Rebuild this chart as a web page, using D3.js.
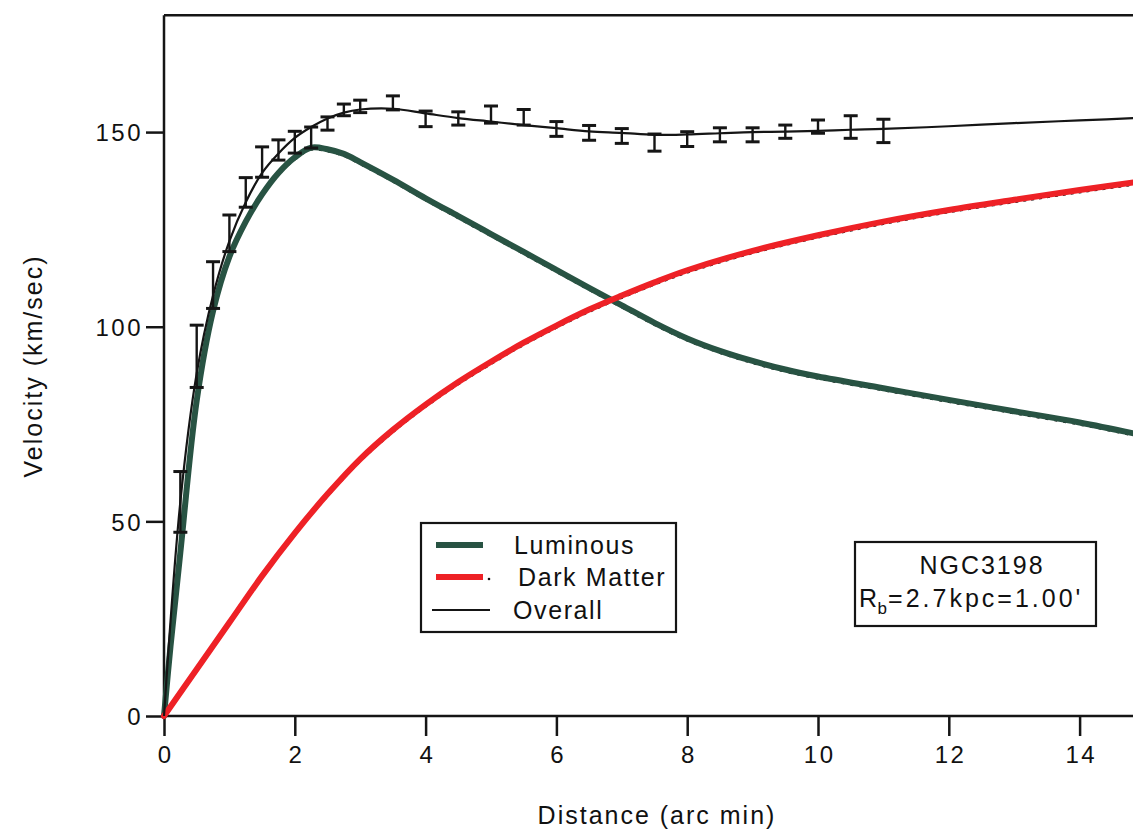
<!DOCTYPE html>
<html>
<head>
<meta charset="utf-8">
<script src="https://cdn.jsdelivr.net/npm/d3@7"></script>
<style>
  html, body { margin: 0; padding: 0; background: #ffffff; }
  svg { display: block; }
  text { font-family: "Liberation Sans", Arial, Helvetica, sans-serif; fill: #111; }
</style>
</head>
<body>
<svg id="chart" width="1133" height="830"></svg>
<script>
// ---------- data ----------
const xTicks = [0, 2, 4, 6, 8, 10, 12, 14];
const yTicks = [0, 50, 100, 150];

// Luminous (stellar + gas) contribution: [distance arcmin, velocity km/s]
const luminous = [[0,0],[0.1,18],[0.25,42],[0.5,81],[0.75,104],[1,118],[1.25,127],[1.5,134],
  [1.75,139.5],[2,143.5],[2.25,146],[2.5,145.6],[2.75,144.4],[3,142.3],[3.5,137.8],[4,133],
  [4.5,128.4],[5,123.8],[5.5,119.2],[6,114.6],[6.5,110],[7,105.5],[7.5,101],[8,97],[8.5,93.8],
  [9,91.2],[9.5,89],[10,87.2],[11,84.2],[12,81.2],[13,78.3],[14,75.4],[15,72]];

// Dark matter halo contribution
const darkMatter = [[0,0],[0.5,12],[1,24],[1.5,36],[2,47],[2.5,57],[3,66],[3.5,73.5],[4,80],
  [4.5,85.8],[5,91],[5.5,95.9],[6,100.3],[6.5,104.4],[7,108],[7.5,111.4],[8,114.5],[9,119.5],
  [10,123.5],[11,127],[12,130],[13,132.6],[14,135.1],[15,137.5]];

// Overall fitted rotation curve
const overall = [[0,0],[0.25,55],[0.5,88],[0.75,108],[1,122],[1.25,132],[1.5,139.5],[1.75,144.5],
  [2,148.5],[2.25,151.3],[2.5,153.5],[2.75,155],[3,155.8],[3.5,156],[4,154.8],[4.5,153.6],
  [5,152.7],[5.5,151.8],[6,151],[6.5,150.2],[7,149.8],[7.5,149.3],[8,149.4],[8.5,149.7],
  [9,150],[9.5,150.1],[10,150.3],[10.5,150.6],[11,150.8],[12,151.5],[13,152.3],[14,153],[15,153.7]];

// Observed rotation velocities: distance, velocity, error
const obsDist = [0.25,0.5,0.75,1,1.25,1.5,1.75,2,2.25,2.5,2.75,3,3.5,4,4.5,5,5.5,6,6.5,7,7.5,8,8.5,9,9.5,10,10.5,11];
const obsVel  = [55,92.4,110.7,124,134.5,142.3,145.4,147.4,148.6,152.2,155.7,156.6,157.5,153.4,153.5,154.5,153.8,150.8,149.8,149,147.3,148.2,149.3,149.3,150.1,151.4,151.3,150.3];
const obsErr  = [7.8,8,6,4.7,3.8,3.9,2.6,2.8,2.7,1.7,1.5,1.6,1.8,2,1.7,2.2,2,1.9,1.9,1.9,2.2,1.9,1.8,1.8,1.7,1.7,2.9,3];

const legendItems = ["Luminous", "Dark Matter", "Overall"];
const xTitle = "Distance (arc min)";
const yTitle = "Velocity  (km/sec)";
const galaxyName = "NGC3198";

// ---------- styles ----------
const GREEN = "#285343";
const RED = "#ee2126";
const INK = "#151515";

const svg = d3.select("#chart");
const x = d3.scaleLinear().domain([0, 15]).range([164, 164 + 15 * 65.4]);
const y = d3.scaleLinear().domain([0, 180]).range([716, 15.3]);

// ---------- frame & axes ----------
svg.append("line").attr("x1", x(0)).attr("x2", x(15)).attr("y1", y(180)).attr("y2", y(180))
  .attr("stroke", INK).attr("stroke-width", 2.5);

const xAxis = svg.append("g").attr("transform", `translate(0,${y(0)})`)
  .call(d3.axisBottom(x).tickValues(xTicks).tickSize(20).tickSizeOuter(0).tickPadding(10).tickFormat(d3.format("d")));
const yAxis = svg.append("g").attr("transform", `translate(${x(0)},0)`)
  .call(d3.axisLeft(y).tickValues(yTicks).tickSize(18).tickSizeOuter(0).tickFormat(d3.format("d")));

[xAxis, yAxis].forEach(g => {
  g.select(".domain").attr("stroke", INK).attr("stroke-width", 2.5);
  g.selectAll(".tick line").attr("stroke", INK).attr("stroke-width", 2.5);
  g.selectAll(".tick text").attr("fill", INK).style("font-family", '"Liberation Sans", Arial, sans-serif')
    .style("font-size", "24px").style("letter-spacing", "2.5px");
});
yAxis.select(".domain").attr("d", `M0,${y(180)}V${y(0)}`);
xAxis.select(".domain").attr("d", `M${x(0)},0H${x(15)}`);
xAxis.selectAll(".tick text").attr("dx", "1.2px");
yAxis.selectAll(".tick text").attr("x", -21).attr("dy", "0.36em");

svg.append("text").attr("x", 657).attr("y", 824).attr("text-anchor", "middle")
  .style("font-size", "25px").style("letter-spacing", "2px").text(xTitle);
svg.append("text").attr("transform", "translate(42,366) rotate(-90)").attr("text-anchor", "middle")
  .style("font-size", "25px").style("letter-spacing", "2px").text(yTitle);

// ---------- curves ----------
const line = d3.line().x(d => x(d[0])).y(d => y(d[1])).curve(d3.curveCatmullRom.alpha(0.5));
const plot = svg.append("g");

// faint printed dashed lines under the coloured curves
plot.append("path").datum(darkMatter).attr("d", line).attr("fill", "none")
  .attr("stroke", INK).attr("stroke-width", 1.6).attr("stroke-dasharray", "3,5")
  .attr("transform", "translate(0,2.6)");
plot.append("path").datum(luminous).attr("d", line).attr("fill", "none")
  .attr("stroke", INK).attr("stroke-width", 1.6).attr("stroke-dasharray", "3,6")
  .attr("transform", "translate(0,2.4)");

plot.append("path").datum(luminous).attr("d", line).attr("fill", "none")
  .attr("stroke", GREEN).attr("stroke-width", 6).attr("stroke-linecap", "round");
plot.append("path").datum(darkMatter).attr("d", line).attr("fill", "none")
  .attr("stroke", RED).attr("stroke-width", 6).attr("stroke-linecap", "round");
plot.append("path").datum(overall).attr("d", line).attr("fill", "none")
  .attr("stroke", INK).attr("stroke-width", 2.2);

// ---------- error bars ----------
const obs = obsDist.map((d, i) => ({ d, v: obsVel[i], e: obsErr[i] }));
const eb = plot.append("g").attr("stroke", INK);
const cap = 7;
eb.selectAll(".bar").data(obs).join("line")
  .attr("x1", o => x(o.d)).attr("x2", o => x(o.d))
  .attr("y1", o => y(o.v - o.e)).attr("y2", o => y(o.v + o.e)).attr("stroke-width", 2.4);
eb.selectAll(".capT").data(obs).join("line").attr("class", "capT")
  .attr("x1", o => x(o.d) - cap).attr("x2", o => x(o.d) + cap)
  .attr("y1", o => y(o.v + o.e)).attr("y2", o => y(o.v + o.e)).attr("stroke-width", 3);
eb.selectAll(".capB").data(obs).join("line").attr("class", "capB")
  .attr("x1", o => x(o.d) - cap).attr("x2", o => x(o.d) + cap)
  .attr("y1", o => y(o.v - o.e)).attr("y2", o => y(o.v - o.e)).attr("stroke-width", 3);

// ---------- legend ----------
const lg = svg.append("g");
lg.append("rect").attr("x", 421).attr("y", 523).attr("width", 255).attr("height", 109)
  .attr("fill", "#fff").attr("stroke", INK).attr("stroke-width", 2.2);
const legendStyle = [
  { c: GREEN, w: 6, x1: 436, x2: 483, y: 545, tx: 514 },
  { c: RED, w: 6, x1: 436, x2: 483, y: 577, tx: 518 },
  { c: INK, w: 1.8, x1: 432, x2: 490, y: 610, tx: 513 }
];
legendItems.forEach((name, i) => {
  const s = legendStyle[i];
  lg.append("line").attr("x1", s.x1).attr("x2", s.x2).attr("y1", s.y).attr("y2", s.y)
    .attr("stroke", s.c).attr("stroke-width", s.w);
  lg.append("text").attr("x", s.tx).attr("y", s.y + 9)
    .style("font-size", "25px").style("letter-spacing", "1.6px").text(name);
});
lg.append("circle").attr("cx", 489).attr("cy", 579).attr("r", 1.3).attr("fill", INK);

// ---------- info box ----------
const ib = svg.append("g");
ib.append("rect").attr("x", 855).attr("y", 542).attr("width", 241).attr("height", 84)
  .attr("fill", "#fff").attr("stroke", INK).attr("stroke-width", 2.2);
ib.append("text").attr("x", 982).attr("y", 574).attr("text-anchor", "middle")
  .style("font-size", "25px").style("letter-spacing", "2px").text(galaxyName);
const t2 = ib.append("text").attr("x", 859).attr("y", 607)
  .style("font-size", "25px").style("letter-spacing", "3px");
t2.append("tspan").style("letter-spacing", "0px").text("R");
t2.append("tspan").attr("dx", "0.5").attr("dy", "7").style("font-size", "17px").style("letter-spacing", "0px").text("b");
t2.append("tspan").attr("dx", "1").attr("dy", "-7").text("=2.7kpc=1.00'");
</script>
</body>
</html>
